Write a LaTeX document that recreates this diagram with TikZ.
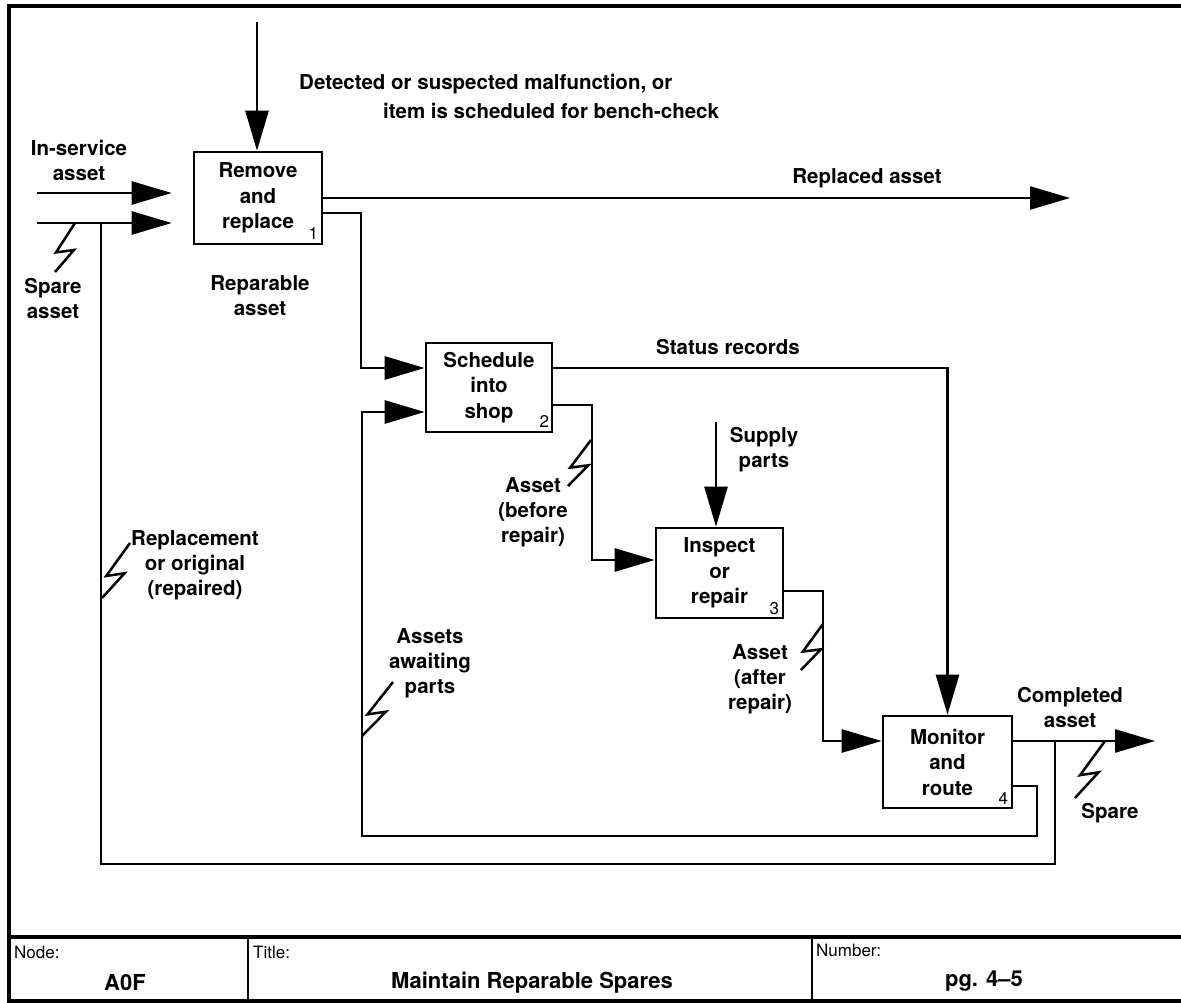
\documentclass[tikz,border=0pt]{standalone}
\usepackage{fontspec}
\setmainfont{TeX Gyre Heros}
\usetikzlibrary{arrows.meta,calc}
\begin{document}
\begin{tikzpicture}[x=1pt,y=-1pt,
  ln/.style={line width=2.6pt},
  arr/.style={line width=2.6pt,-{Triangle[length=40pt,width=23pt]}},
  sq/.style={line width=2.5pt,line join=miter},
  fbox/.style={draw,line width=2.6pt,inner sep=0pt,align=center,
    font=\bfseries\fontsize{20.5}{25.5}\selectfont},
  lbl/.style={inner sep=0pt,align=center,font=\bfseries\fontsize{20.5}{25}\selectfont},
  num/.style={inner sep=0pt,font=\fontsize{17}{17}\selectfont},
  tsmall/.style={inner sep=0pt,anchor=west,font=\fontsize{17}{17}\selectfont},
  tbig/.style={inner sep=0pt,font=\bfseries\fontsize{22}{22}\selectfont}]
\useasboundingbox (0,0) rectangle (1181,1003);
\newcommand\squig[2]{\draw[sq] (#1) -- ($(#1)!0.6!(#2)+(-7,0)$) -- ($(#1)!0.55!(#2)+(10,0)$) -- (#2);}
% frame and title block
\draw[line width=3.5pt] (1181,6) -- (9,6) -- (9,1001) -- (1181,1001);
\draw[line width=3.5pt] (9,937) -- (1181,937);
\draw[line width=2.6pt] (248,937) -- (248,1001);
\draw[line width=2.6pt] (812,937) -- (812,1001);
\node[tsmall] (tn) at (14,952) {Node:};
\node[tsmall] (tt) at (253,952) {Title:};
\node[tsmall] (tnum) at (816,950) {Number:};
\node[tbig] (tnode) at (125,983) {A0F};
\node[tbig] (ttitle) at (532,983) {Maintain Reparable Spares};
\node[tbig] (tpage) at (984,981) {pg. 4\textendash5};
% boxes
\node[fbox,minimum width=128pt,minimum height=92pt] (b1) at (258,198) {Remove\\and\\replace};
\node[fbox,minimum width=126pt,minimum height=89pt] (b2) at (489,387.5) {Schedule\\into\\shop};
\node[fbox,minimum width=127pt,minimum height=90pt] (b3) at (719.5,573) {Inspect\\or\\repair};
\node[fbox,minimum width=129pt,minimum height=92pt] (b4) at (947.5,762) {Monitor\\and\\route};
\node[num] (n1) at ($(b1.south east)+(-10,-12)$) {1};
\node[num] (n2) at ($(b2.south east)+(-9,-12)$) {2};
\node[num] (n3) at ($(b3.south east)+(-10,-11)$) {3};
\node[num] (n4) at ($(b4.south east)+(-10,-11)$) {4};
% coordinates
\coordinate (ctop) at (257,22);
\coordinate (in1) at (37,193);
\coordinate (in2) at (37,223);
\coordinate (rep) at (1070,198);
\coordinate (sup) at (716,422);
\coordinate (out4) at (1155,741);
\coordinate (j4) at (1055,741);
\coordinate (j1) at (101,223);
% connectors
\draw[arr] (ctop) -- (ctop |- b1.north);
\draw[arr,shorten >=21pt] (in1) -- (in1 -| b1.west);
\draw[arr,shorten >=21pt] (in2) -- (in2 -| b1.west);
\draw[arr] (b1.east) -- (rep);
\draw[arr] ($(b1.east)+(0,15)$) -- (361,213) -- (361,368) -- ($(b2.west)+(0,-19.5)$);
\draw[arr] ($(b2.east)+(0,-19.5)$) -| (b4.north);
\draw[arr] ($(b2.east)+(0,17.5)$) -- (592,405) -- (592,560) -- ($(b3.west)+(0,-13)$);
\draw[arr] (sup) -- (sup |- b3.north);
\draw[arr] ($(b3.east)+(0,18)$) -- (823,591) -- (823,741) -- ($(b4.west)+(0,-21)$);
\draw[arr] ($(b4.east)+(0,-21)$) -- (out4);
\draw[ln] (j4) -- (1055,864) -- (101,864) -- (j1);
\draw[arr] ($(b4.east)+(0,24)$) -- (1037,786) -- (1037,836) -- (362,836) -- (362,412) -- ($(b2.west)+(0,24.5)$);
% squiggles
\squig{75,223}{55,272}
\squig{130,543}{102,598}
\squig{591,440}{568,486}
\squig{823,624}{801,670}
\squig{393,682}{362,736}
\squig{1105,741}{1075,798}
% labels
\node[lbl,anchor=west] (l1a) at (299,84) {Detected or suspected malfunction, or};
\node[lbl,anchor=west] (l1b) at (383,111) {item is scheduled for bench-check};
\node[lbl] (l2) at (79,160.5) {In-service\\asset};
\node[lbl] (l3) at (53,298) {Spare\\asset};
\node[lbl] (l4) at (260,296) {Reparable\\asset};
\node[lbl] (l5) at (867,178) {Replaced asset};
\node[lbl] (l6) at (728,347) {Status records};
\node[lbl] (l7) at (764,449.5) {Supply\\parts};
\node[lbl] (l8) at (533,512) {Asset\\(before\\repair)};
\node[lbl] (l9) at (760,679) {Asset\\(after\\repair)};
\node[lbl] (l10) at (1070,707.5) {Completed\\asset};
\node[lbl] (l11) at (1110,813) {Spare};
\node[lbl] (l12) at (195,565) {Replacement\\or original\\(repaired)};
\node[lbl] (l13) at (430,663) {Assets\\awaiting\\parts};
\end{tikzpicture}
\end{document}
